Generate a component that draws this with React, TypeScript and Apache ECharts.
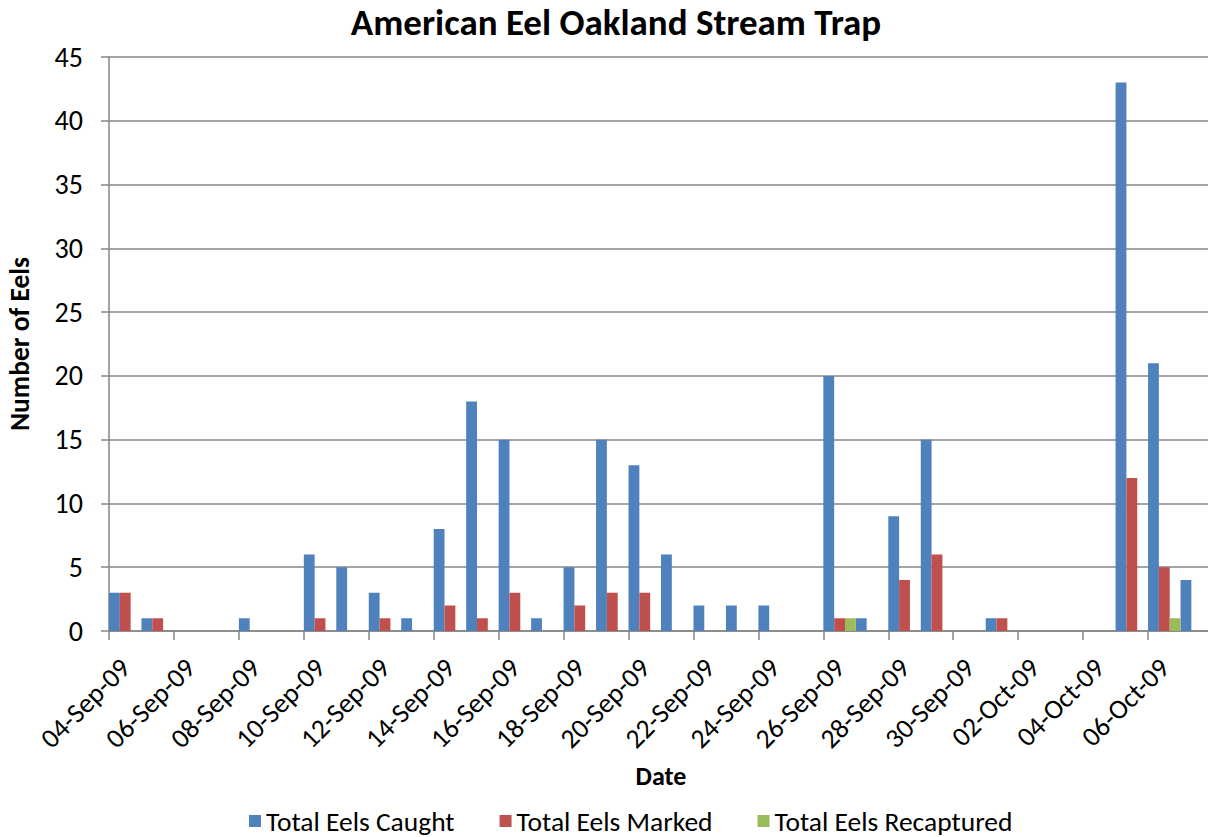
import React, { useEffect, useRef } from "react";
import * as echarts from "echarts";

const dates = [
  "04-Sep-09", "05-Sep-09", "06-Sep-09", "07-Sep-09", "08-Sep-09", "09-Sep-09",
  "10-Sep-09", "11-Sep-09", "12-Sep-09", "13-Sep-09", "14-Sep-09", "15-Sep-09",
  "16-Sep-09", "17-Sep-09", "18-Sep-09", "19-Sep-09", "20-Sep-09", "21-Sep-09",
  "22-Sep-09", "23-Sep-09", "24-Sep-09", "25-Sep-09", "26-Sep-09", "27-Sep-09",
  "28-Sep-09", "29-Sep-09", "30-Sep-09", "01-Oct-09", "02-Oct-09", "03-Oct-09",
  "04-Oct-09", "05-Oct-09", "06-Oct-09", "07-Oct-09",
];

const caught = [
  3, 1, 0, 0, 1, 0,
  6, 5, 3, 1, 8, 18,
  15, 1, 5, 15, 13, 6,
  2, 2, 2, 0, 20, 1,
  9, 15, 0, 1, 0, 0,
  0, 43, 21, 4,
];

const marked = [
  3, 1, 0, 0, 0, 0,
  1, 0, 1, 0, 2, 1,
  3, 0, 2, 3, 3, 0,
  0, 0, 0, 0, 1, 0,
  4, 6, 0, 1, 0, 0,
  0, 12, 5, 0,
];

const recaptured = [
  0, 0, 0, 0, 0, 0,
  0, 0, 0, 0, 0, 0,
  0, 0, 0, 0, 0, 0,
  0, 0, 0, 0, 1, 0,
  0, 0, 0, 0, 0, 0,
  0, 0, 1, 0,
];

const seriesNames = ["Total Eels Caught", "Total Eels Marked", "Total Eels Recaptured"];
const colors = ["#4F81BD", "#C0504D", "#9BBB59"];

const FONT = "Carlito, Lato, sans-serif";
const GRID = "#868686";

export default function App() {
  const ref = useRef<HTMLDivElement>(null);
  useEffect(() => {
    if (!ref.current) return;
    const chart = echarts.init(ref.current, undefined, { renderer: "svg" });
    const values = [caught, marked, recaptured];
    chart.setOption({
      animation: false,
      backgroundColor: "#ffffff",
      textStyle: { fontFamily: FONT, color: "#000" },
      graphic: [
        {
          type: "text",
          x: 616,
          y: 22,
          style: {
            text: "American Eel Oakland Stream Trap",
            font: `bold 37px ${FONT}`,
            fill: "#000",
            align: "center",
            verticalAlign: "middle",
          },
        },
      ],
      grid: {
        left: 109,
        top: 57,
        width: 1104,
        height: 574,
        containLabel: false,
        outerBoundsMode: "none",
      },
      legend: {
        left: 244,
        top: 802,
        icon: "rect",
        itemWidth: 12,
        itemHeight: 12,
        itemGap: 45,
        data: seriesNames,
        textStyle: { fontFamily: FONT, fontSize: 27.5, color: "#000" },
      },
      xAxis: {
        type: "category",
        data: dates,
        boundaryGap: true,
        name: "Date",
        nameLocation: "middle",
        nameGap: 132,
        nameTextStyle: { fontFamily: FONT, fontWeight: "bold", fontSize: 26, color: "#000" },
        axisLine: { lineStyle: { color: GRID, width: 1.5 } },
        axisTick: { show: true, interval: 1, length: 9, lineStyle: { color: GRID, width: 1.5 } },
        axisLabel: {
          interval: 1,
          rotate: 45,
          margin: 32,
          padding: [30, 0, 0, 0],
          fontFamily: FONT,
          fontSize: 27.5,
          color: "#000",
        },
        splitLine: { show: false },
      },
      yAxis: {
        type: "value",
        min: 0,
        max: 45,
        interval: 5,
        name: "Number of Eels",
        nameLocation: "middle",
        nameGap: 76,
        nameRotate: 90,
        nameTextStyle: { fontFamily: FONT, fontWeight: "bold", fontSize: 27.5, color: "#000" },
        axisLine: { show: true, lineStyle: { color: GRID, width: 1.5 } },
        axisTick: { show: true, length: 8, lineStyle: { color: GRID, width: 1.5 } },
        axisLabel: { margin: 26, fontFamily: FONT, fontSize: 28, color: "#000" },
        splitLine: { show: true, lineStyle: { color: GRID, width: 1.5 } },
      },
      series: seriesNames.map((name, i) => ({
        name,
        type: "bar",
        data: values[i],
        barGap: "0%",
        barCategoryGap: "0%",
        itemStyle: { color: colors[i] },
      })),
    });
    return () => chart.dispose();
  }, []);
  return (
    <div
      ref={ref}
      style={{ position: "fixed", left: 0, top: 0, width: 1208, height: 837, background: "#fff" }}
    />
  );
}
